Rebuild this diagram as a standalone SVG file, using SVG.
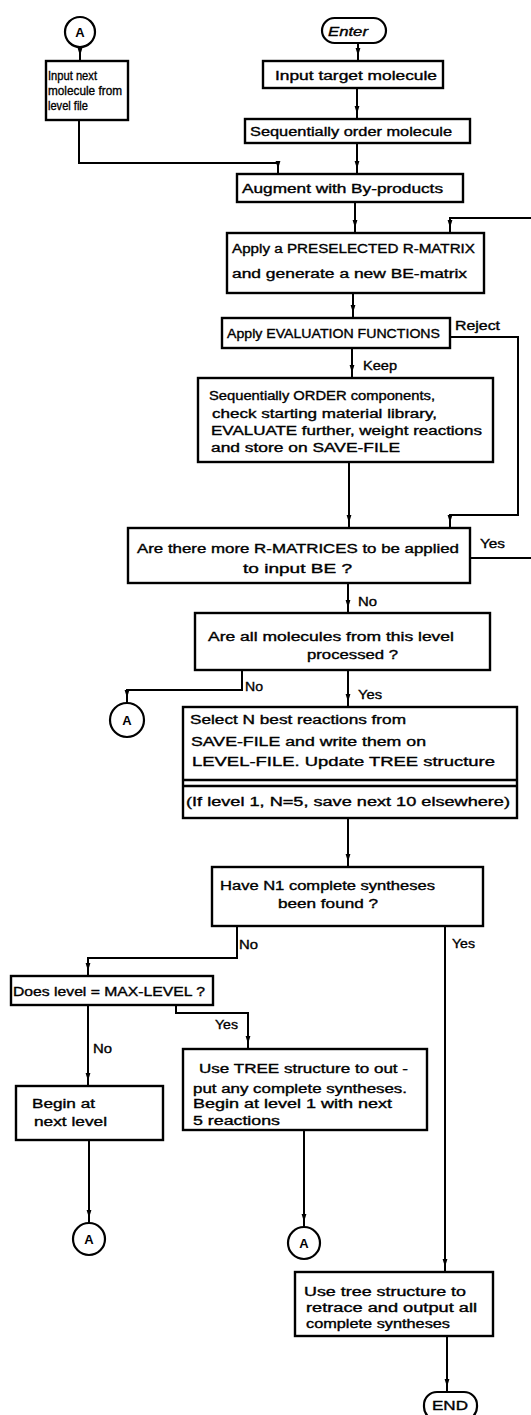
<svg xmlns="http://www.w3.org/2000/svg" width="531" height="1415" viewBox="0 0 531 1415">
<style>
  .box{fill:#fff;stroke:#000;stroke-width:2.4}
  .term{fill:#fff;stroke:#000;stroke-width:2.2}
  .conn{fill:none;stroke:#000;stroke-width:2;marker-end:url(#arr)}
  .plain{fill:none;stroke:#000;stroke-width:2}
  text{font-family:"Liberation Sans",Arial,sans-serif;font-size:12.5px;fill:#000;stroke:#000;stroke-width:0.35}
  .sm{font-size:12.5px}
  .a{font-weight:bold;font-size:13px;text-anchor:middle;stroke-width:0}
</style>
<defs>
  <marker id="arr" viewBox="0 0 13 6" markerWidth="13" markerHeight="6" refX="13" refY="3" orient="auto" markerUnits="userSpaceOnUse">
    <path d="M0,0.6 L8,3 L0,5.4 z" fill="#000"/>
  </marker>
</defs>
<rect width="531" height="1415" fill="#fff"/>

<g id="connectors">
  <path class="conn" d="M80,47 V61"/>
  <path class="conn" d="M79,120 V163 H278 V174"/>
  <path class="conn" d="M358,43 V61"/>
  <path class="conn" d="M357,88 V119"/>
  <path class="conn" d="M357,143 V174"/>
  <path class="conn" d="M355,202 V233"/>
  <path class="conn" d="M531,218 H450 V233"/>
  <path class="conn" d="M353,293 V318"/>
  <path class="conn" d="M352,348 V378"/>
  <path class="conn" d="M450,337 H518 V515 H450 V528"/>
  <path class="conn" d="M349,462 V528"/>
  <path class="plain" d="M470,558 H531"/>
  <path class="conn" d="M348,583 V613"/>
  <path class="conn" d="M242,670 V690 H127 V703"/>
  <path class="conn" d="M348,670 V707"/>
  <path class="conn" d="M348,818 V867"/>
  <path class="conn" d="M237,926 V958 H88 V976"/>
  <path class="conn" d="M445,926 V1272"/>
  <path class="conn" d="M176,1005 V1013 H248 V1049"/>
  <path class="conn" d="M88,1005 V1086"/>
  <path class="conn" d="M89,1140 V1223"/>
  <path class="conn" d="M304,1130 V1227"/>
  <path class="conn" d="M447,1336 V1392"/>
  <text x="363" y="370" textLength="34" lengthAdjust="spacingAndGlyphs">Keep</text>
  <text x="455" y="330" textLength="45" lengthAdjust="spacingAndGlyphs">Reject</text>
  <text x="480" y="548" textLength="25" lengthAdjust="spacingAndGlyphs">Yes</text>
  <text x="358" y="606" textLength="19" lengthAdjust="spacingAndGlyphs">No</text>
  <text x="245" y="691" textLength="18" lengthAdjust="spacingAndGlyphs">No</text>
  <text x="358" y="699" textLength="24" lengthAdjust="spacingAndGlyphs">Yes</text>
  <text x="239" y="949" textLength="19" lengthAdjust="spacingAndGlyphs">No</text>
  <text x="452" y="948" textLength="23" lengthAdjust="spacingAndGlyphs">Yes</text>
  <text x="215" y="1029" textLength="23" lengthAdjust="spacingAndGlyphs">Yes</text>
  <text x="93" y="1053" textLength="19" lengthAdjust="spacingAndGlyphs">No</text>
</g>

<g id="connA1">
  <circle class="term" cx="80" cy="32" r="15"/>
  <text class="a" x="80" y="37">A</text>
</g>
<g id="inputNext">
  <rect class="box" x="46" y="61" width="82" height="59"/>
  <text class="sm" x="48" y="80" textLength="49" lengthAdjust="spacingAndGlyphs">Input next</text>
  <text class="sm" x="48" y="95" textLength="74" lengthAdjust="spacingAndGlyphs">molecule from</text>
  <text class="sm" x="48" y="110" textLength="40" lengthAdjust="spacingAndGlyphs">level file</text>
</g>
<g id="enter">
  <rect class="term" x="322" y="18" width="64" height="25" rx="12.5"/>
  <text x="328" y="36" textLength="40" lengthAdjust="spacingAndGlyphs" font-style="italic">Enter</text>
</g>
<g id="inputTarget">
  <rect class="box" x="263" y="61" width="180" height="27"/>
  <text x="275" y="80" textLength="162" lengthAdjust="spacingAndGlyphs">Input target molecule</text>
</g>
<g id="seqOrder">
  <rect class="box" x="245" y="119" width="225" height="24"/>
  <text x="250" y="136" textLength="202" lengthAdjust="spacingAndGlyphs">Sequentially order molecule</text>
</g>
<g id="augment">
  <rect class="box" x="237" y="174" width="226" height="28"/>
  <text x="242" y="193" textLength="201" lengthAdjust="spacingAndGlyphs">Augment with By-products</text>
</g>
<g id="applyR">
  <rect class="box" x="227" y="233" width="257" height="60"/>
  <text x="232" y="253" textLength="243" lengthAdjust="spacingAndGlyphs">Apply a PRESELECTED R-MATRIX</text>
  <text x="232" y="278" textLength="235" lengthAdjust="spacingAndGlyphs">and generate a new BE-matrix</text>
</g>
<g id="evalFn">
  <rect class="box" x="222" y="318" width="228" height="30"/>
  <text x="227" y="338" textLength="213" lengthAdjust="spacingAndGlyphs">Apply EVALUATION FUNCTIONS</text>
</g>
<g id="orderComp">
  <rect class="box" x="198" y="378" width="295" height="84"/>
  <text x="209" y="400" textLength="226" lengthAdjust="spacingAndGlyphs">Sequentially ORDER components,</text>
  <text x="212" y="418" textLength="225" lengthAdjust="spacingAndGlyphs">check starting material library,</text>
  <text x="211" y="435" textLength="271" lengthAdjust="spacingAndGlyphs">EVALUATE further, weight reactions</text>
  <text x="211" y="452" textLength="189" lengthAdjust="spacingAndGlyphs">and store on SAVE-FILE</text>
</g>
<g id="moreR">
  <rect class="box" x="128" y="528" width="342" height="55"/>
  <text x="137" y="553" textLength="322" lengthAdjust="spacingAndGlyphs">Are there more R-MATRICES to be applied</text>
  <text x="243" y="573" textLength="109" lengthAdjust="spacingAndGlyphs">to input BE ?</text>
</g>
<g id="allMol">
  <rect class="box" x="195" y="613" width="295" height="57"/>
  <text x="208" y="641" textLength="246" lengthAdjust="spacingAndGlyphs">Are all molecules from this level</text>
  <text x="307" y="659" textLength="91" lengthAdjust="spacingAndGlyphs">processed ?</text>
</g>
<g id="connA2">
  <circle class="term" cx="127" cy="720" r="17"/>
  <text class="a" x="127" y="725">A</text>
</g>
<g id="selectN">
  <rect class="box" x="183" y="707" width="334" height="111"/>
  <line class="plain" x1="183" y1="780" x2="517" y2="780" style="stroke-width:2.4"/>
  <line class="plain" x1="183" y1="786" x2="517" y2="786" style="stroke-width:2.4"/>
  <text x="190" y="724" textLength="216" lengthAdjust="spacingAndGlyphs">Select N best reactions from</text>
  <text x="191" y="746" textLength="235" lengthAdjust="spacingAndGlyphs">SAVE-FILE and write them on</text>
  <text x="192" y="766" textLength="303" lengthAdjust="spacingAndGlyphs">LEVEL-FILE. Update TREE structure</text>
  <text x="186" y="806" textLength="324" lengthAdjust="spacingAndGlyphs">(If level 1, N=5, save next 10 elsewhere)</text>
</g>
<g id="haveN">
  <rect class="box" x="212" y="867" width="271" height="59"/>
  <text x="220" y="890" textLength="215" lengthAdjust="spacingAndGlyphs">Have N1 complete syntheses</text>
  <text x="278" y="908" textLength="100" lengthAdjust="spacingAndGlyphs">been found ?</text>
</g>
<g id="maxLevel">
  <rect class="box" x="11" y="976" width="202" height="29"/>
  <text x="13" y="996" textLength="192" lengthAdjust="spacingAndGlyphs">Does level = MAX-LEVEL ?</text>
</g>
<g id="beginNext">
  <rect class="box" x="16" y="1086" width="147" height="54"/>
  <text x="32" y="1108" textLength="63" lengthAdjust="spacingAndGlyphs">Begin at</text>
  <text x="34" y="1126" textLength="73" lengthAdjust="spacingAndGlyphs">next level</text>
</g>
<g id="useTree1">
  <rect class="box" x="183" y="1049" width="244" height="81"/>
  <text x="199" y="1073" textLength="209" lengthAdjust="spacingAndGlyphs">Use TREE structure to out -</text>
  <text x="193" y="1093" textLength="214" lengthAdjust="spacingAndGlyphs">put any complete syntheses.</text>
  <text x="193" y="1108" textLength="199" lengthAdjust="spacingAndGlyphs">Begin at level 1 with next</text>
  <text x="193" y="1125" textLength="87" lengthAdjust="spacingAndGlyphs">5 reactions</text>
</g>
<g id="connA3">
  <circle class="term" cx="89" cy="1239" r="16"/>
  <text class="a" x="89" y="1244">A</text>
</g>
<g id="connA4">
  <circle class="term" cx="304" cy="1243" r="16"/>
  <text class="a" x="304" y="1248">A</text>
</g>
<g id="useTree2">
  <rect class="box" x="295" y="1272" width="198" height="64"/>
  <text x="304" y="1296" textLength="162" lengthAdjust="spacingAndGlyphs">Use tree structure to</text>
  <text x="306" y="1312" textLength="171" lengthAdjust="spacingAndGlyphs">retrace and output all</text>
  <text x="306" y="1328" textLength="144" lengthAdjust="spacingAndGlyphs">complete syntheses</text>
</g>
<g id="end">
  <rect class="term" x="424" y="1392" width="53" height="28" rx="13"/>
  <text x="432" y="1410" textLength="36" lengthAdjust="spacingAndGlyphs">END</text>
</g>
</svg>
